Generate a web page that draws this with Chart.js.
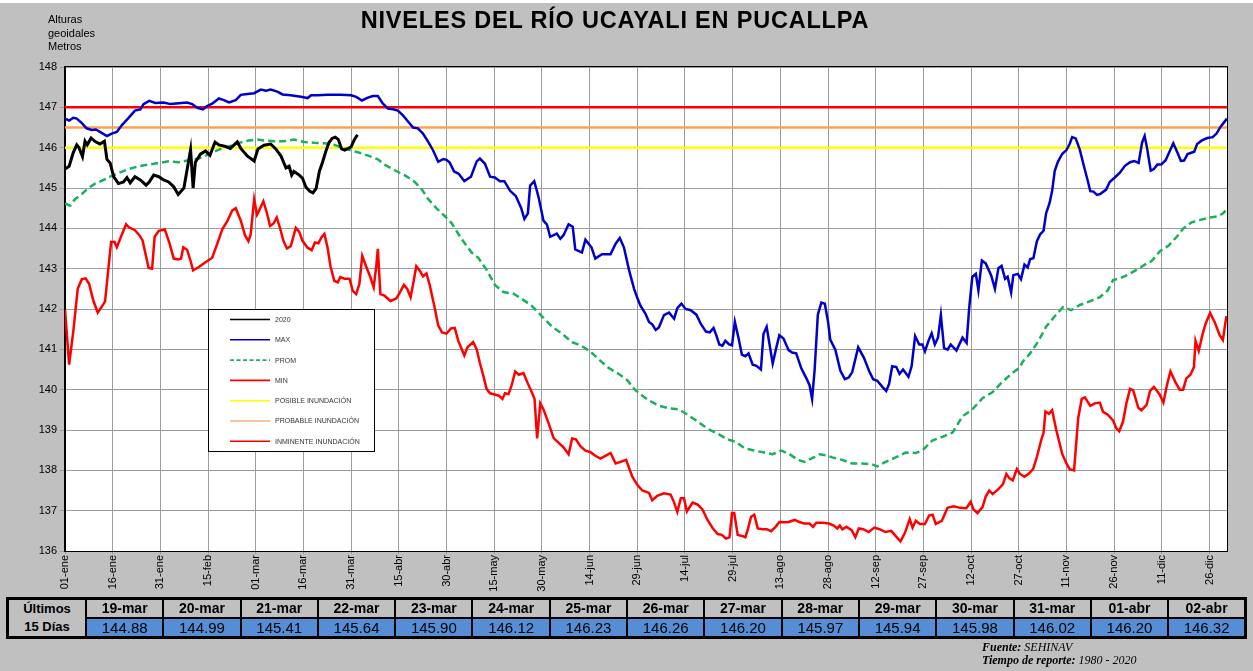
<!DOCTYPE html>
<html><head><meta charset="utf-8">
<script src="https://cdn.jsdelivr.net/npm/chart.js@4.4.1/dist/chart.umd.min.js"></script>
<style>
html,body{margin:0;padding:0;background:#c0c0c0;}
#wrap{position:relative;width:1253px;height:671px;background:#c0c0c0;overflow:hidden;font-family:"Liberation Sans",Arial,sans-serif;}
#topline{position:absolute;left:0;top:0;width:1253px;height:3px;background:#fff;}
#c{position:absolute;left:0;top:0;}
#title{position:absolute;left:0;width:1230px;top:7px;line-height:27px;text-align:center;font-weight:bold;font-size:23.5px;color:#000;letter-spacing:0.8px;}
#ycap{position:absolute;left:48px;top:13px;font-size:11px;line-height:13.5px;color:#000;}
#tbl{position:absolute;left:6px;top:597px;width:1241px;border-collapse:collapse;table-layout:fixed;border:3px solid #000;}
#tbl td{border:2px solid #000;padding:0;text-align:center;height:17px;line-height:17px;white-space:nowrap;overflow:hidden;}
#tbl td.lab{font-weight:bold;font-size:13px;line-height:18px;background:#c0c0c0;width:76px;}
#tbl td.hd{font-weight:bold;font-size:14px;background:#c0c0c0;}
#tbl td.vl{font-size:15px;background:#558ed5;}
#foot{position:absolute;left:982px;top:641px;font-family:"Liberation Serif","Times New Roman",serif;font-size:12px;line-height:13px;color:#000;}
</style></head>
<body>
<div id="wrap">
<div id="topline"></div>
<canvas id="c" width="1253" height="671"></canvas>
<div id="title">NIVELES DEL RÍO UCAYALI EN PUCALLPA</div>
<div id="ycap">Alturas<br>geoidales<br>Metros</div>
<table id="tbl"><tr id="rh"></tr><tr id="rv"></tr></table>
<div id="foot"><b><i>Fuente:</i></b> <i>SEHINAV</i><br><b><i>Tiempo de reporte:</i></b> <i>1980 - 2020</i></div>
</div>
<script>
// ---------- DATA ----------
const xTickLabels = ['01-ene','16-ene','31-ene','15-feb','01-mar','16-mar','31-mar','15-abr','30-abr','15-may','30-may','14-jun','29-jun','14-jul','29-jul','13-ago','28-ago','12-sep','27-sep','12-oct','27-oct','11-nov','26-nov','11-dic','26-dic'];
const tableDates = ['19-mar','20-mar','21-mar','22-mar','23-mar','24-mar','25-mar','26-mar','27-mar','28-mar','29-mar','30-mar','31-mar','01-abr','02-abr'];
const tableValues = [144.88,144.99,145.41,145.64,145.90,146.12,146.23,146.26,146.20,145.97,145.94,145.98,146.02,146.20,146.32];
const tableStartDay = 78; // 19-mar (day of year index, 2020)
const posible = 146, probable = 146.5, inminente = 147;

// [day of year, level]
const s2020 = [[0,145.47],[1.3,145.54],[2.6,145.88],[3.7,146.07],[4.4,146.0],[5.5,145.78],[6.3,146.16],[7,146.07],[8.2,146.24],[9.5,146.15],[11,146.09],[12.4,146.16],[13.2,145.71],[14.2,145.62],[15.3,145.28],[16.8,145.11],[18.4,145.15],[19.5,145.26],[20.5,145.13],[22,145.28],[23.7,145.2],[25.5,145.07],[26.5,145.15],[27.9,145.32],[29.5,145.28],[31,145.2],[32.6,145.15],[34.2,145.03],[35.6,144.84],[37.4,145.0],[38.4,145.45],[39.5,145.95],[40.3,145.0],[41,145.64],[42.6,145.84],[44.2,145.92],[45.6,145.81],[47.2,146.14],[48.4,146.07],[50.5,146.03],[52,145.98],[54.2,146.14],[55.3,145.98],[57.4,145.79],[59.5,145.67],[60.7,145.97],[62.6,146.06],[64.7,146.09],[66.3,145.97],[67.9,145.8],[69.5,145.5],[70.5,145.54],[71.3,145.32],[72,145.41],[73.7,145.32],[74.7,145.24],[75.8,145.02],[77,144.92]];

const sMax = [[0,146.72],[1.3,146.67],[2.6,146.74],[3.7,146.72],[5.3,146.61],[6.8,146.48],[8.4,146.44],[9.7,146.45],[11,146.39],[13.2,146.29],[14.7,146.35],[16.3,146.39],[17.9,146.56],[20,146.74],[22,146.92],[23.7,146.95],[24.7,147.08],[26.5,147.16],[28.4,147.11],[31,147.12],[33.2,147.08],[35.8,147.1],[38.4,147.12],[40,147.08],[41.6,146.99],[43.4,146.95],[44.7,147.03],[46.3,147.09],[48.4,147.22],[50,147.18],[51.6,147.12],[53.7,147.18],[55.3,147.31],[57.4,147.33],[59.5,147.35],[61.6,147.44],[63.2,147.41],[64.7,147.44],[66.8,147.39],[68.4,147.32],[71,147.3],[74.2,147.26],[76.3,147.23],[77.4,147.3],[79.5,147.3],[82.6,147.31],[86.8,147.31],[90,147.3],[91.6,147.26],[93.4,147.17],[95.3,147.24],[96.8,147.28],[98.4,147.28],[100,147.09],[101.6,146.97],[103.2,146.95],[104.7,146.92],[106.3,146.8],[107.9,146.65],[109.5,146.5],[111,146.48],[112.6,146.35],[114.2,146.15],[115.8,145.93],[117.4,145.65],[119,145.72],[120,145.7],[121,145.63],[122.4,145.41],[123.9,145.35],[125.6,145.17],[127.7,145.28],[129.5,145.66],[130.5,145.73],[132.1,145.6],[133.7,145.28],[135.2,145.26],[136.8,145.17],[138.2,145.17],[140,144.93],[141.8,144.8],[143.5,144.5],[144.5,144.23],[145.6,144.37],[146.3,145.06],[147.6,145.17],[149,144.76],[150.5,144.19],[151.6,144.09],[152.6,143.79],[154.7,143.87],[155.8,143.74],[156.8,143.83],[158.4,144.1],[159.7,144.04],[160.5,143.48],[162.6,143.4],[163.7,143.72],[165.6,143.53],[166.8,143.25],[168.9,143.36],[171.6,143.36],[173.2,143.62],[174.5,143.76],[175.8,143.53],[177.4,142.97],[179,142.5],[180,142.28],[181,142.08],[182.6,141.88],[183.7,141.68],[184.7,141.62],[185.8,141.48],[186.8,141.54],[188.4,141.85],[190,141.91],[191.6,141.76],[192.6,142.02],[193.9,142.13],[195.2,142.0],[196.8,141.97],[198.6,141.86],[200,141.63],[201.6,141.44],[202.8,141.42],[204,141.53],[204.9,141.34],[205.8,141.12],[206.8,141.09],[207.7,141.21],[208.9,141.12],[209.8,141.1],[210.7,141.68],[211.9,141.26],[212.9,140.87],[214,140.83],[215,140.9],[216.3,140.62],[217.5,140.59],[218.9,140.5],[219.7,141.38],[220.7,141.56],[222.6,140.65],[223.7,141.03],[224.7,141.35],[226,141.27],[227.6,140.98],[228.7,140.92],[230,140.9],[231.6,140.53],[233.2,140.28],[234.2,140.11],[235,139.77],[235.8,140.5],[236.8,141.86],[237.9,142.16],[239,142.13],[240,141.69],[240.7,141.24],[242.3,140.99],[243.9,140.47],[245.3,140.26],[246.5,140.3],[247.6,140.43],[249.5,141.05],[251.3,140.79],[252.9,140.47],[254.2,140.26],[255.5,140.22],[257.1,140.07],[258.3,139.97],[259.2,140.14],[260.2,140.58],[261.5,140.56],[262.5,140.39],[263.6,140.5],[265.3,140.32],[266.3,140.58],[267.4,141.33],[268.7,141.12],[269.7,141.12],[270.5,140.95],[271.6,141.21],[272.6,141.4],[273.6,141.12],[274.6,141.29],[275.5,141.85],[276.5,141.03],[277.6,140.99],[278.6,141.12],[280.4,140.97],[282.3,141.29],[283.6,141.16],[284.4,142.02],[285.4,142.8],[286.5,142.87],[287.3,142.46],[288.4,143.2],[289.6,143.13],[291.3,142.84],[292.5,142.5],[293.6,143.01],[294.6,143.07],[295.7,142.75],[296.5,142.8],[297.6,142.41],[298.3,142.84],[299.7,142.87],[300.7,142.74],[301.8,143.1],[302.8,143.03],[303.6,143.24],[304.6,143.26],[305.7,143.68],[306.7,143.85],[307.8,143.94],[308.6,144.37],[309.7,144.63],[310.5,144.93],[311.3,145.42],[312.3,145.65],[313.7,145.85],[315,145.94],[316,146.09],[316.8,146.26],[317.9,146.23],[319.2,145.95],[320.4,145.57],[321.8,145.15],[322.5,144.92],[323.5,144.91],[324.6,144.83],[325.6,144.85],[327.5,144.96],[328.6,145.15],[330.2,145.26],[331.8,145.38],[333.4,145.55],[335,145.64],[336.3,145.67],[337.7,145.62],[338.8,146.13],[339.6,146.29],[340.4,145.97],[341.5,145.43],[342.5,145.47],[343.6,145.58],[344.8,145.58],[346.2,145.69],[347.3,145.88],[348.6,146.11],[349.9,145.88],[351,145.67],[352,145.68],[353.1,145.84],[354.5,145.88],[355.2,145.9],[356.1,146.09],[357.6,146.18],[359.3,146.24],[361,146.26],[362.2,146.35],[363.5,146.52],[365,146.67],[365.5,146.72]];

const sProm = [[0,144.62],[1.6,144.56],[3.2,144.73],[5.3,144.85],[7.4,145.0],[9.5,145.11],[11.6,145.18],[14.2,145.28],[16.8,145.37],[20,145.47],[23.2,145.54],[26.3,145.58],[29.5,145.62],[32.6,145.66],[35.8,145.64],[38.9,145.69],[42.1,145.73],[45.3,145.84],[48.4,145.95],[51.6,146.03],[54.7,146.12],[57.9,146.18],[60.5,146.2],[62.6,146.18],[65.8,146.16],[68.9,146.16],[72.1,146.2],[75.3,146.14],[78.4,146.12],[81.6,146.11],[84.7,146.07],[87.9,145.98],[90.5,145.92],[93.2,145.86],[95.8,145.79],[98.4,145.71],[100.5,145.58],[103.7,145.44],[106.8,145.32],[110,145.15],[112.1,144.98],[114.2,144.73],[116.8,144.5],[119.5,144.3],[121.6,144.13],[124.7,143.74],[127.9,143.4],[130,143.27],[132.6,142.97],[135.3,142.59],[137.9,142.42],[141.1,142.38],[143.7,142.25],[146.8,142.08],[150,141.82],[153.2,141.56],[156.3,141.39],[159.5,141.18],[162.6,141.08],[165.3,140.94],[167.9,140.75],[171,140.54],[174.2,140.39],[176.8,140.24],[179.5,139.98],[181.6,139.85],[183.7,139.73],[186.8,139.6],[190,139.54],[193.2,139.51],[195.8,139.38],[199,139.21],[202.1,139.03],[205.3,138.91],[208.4,138.77],[211.1,138.7],[213.7,138.55],[216.8,138.49],[220,138.44],[222.6,138.4],[225.3,138.49],[227.9,138.4],[230.5,138.26],[232.6,138.21],[234.7,138.29],[237.4,138.4],[240,138.36],[241.3,138.32],[244.4,138.26],[247.6,138.17],[250.7,138.17],[253.9,138.15],[255.5,138.1],[258.1,138.21],[261.3,138.32],[264.4,138.44],[267.6,138.43],[269.7,138.49],[272.8,138.74],[276,138.83],[279.2,138.94],[282.3,139.34],[285.4,139.51],[288.6,139.79],[291.8,139.94],[294.9,140.2],[298.1,140.42],[300.2,140.54],[301.3,140.7],[303.4,140.88],[306,141.18],[308.6,141.56],[311.3,141.82],[314,142.05],[316.5,141.97],[319.2,142.1],[322.3,142.19],[325.4,142.29],[328,142.46],[329.7,142.72],[331.8,142.76],[334.4,142.85],[337,142.97],[339.7,143.1],[341.8,143.19],[344.5,143.44],[347.1,143.57],[349.7,143.79],[351.8,144.0],[354.4,144.15],[357.1,144.21],[360.2,144.27],[362.8,144.3],[364.4,144.38],[365.5,144.5]];

const sMin = [[0,141.99],[1.3,140.62],[2.6,141.44],[4,142.5],[5.3,142.74],[6.5,142.76],[7.6,142.62],[8.9,142.21],[10.3,141.91],[11.6,142.06],[12.6,142.19],[13.5,142.89],[14.5,143.66],[15.6,143.66],[16.3,143.53],[17.7,143.81],[19.2,144.1],[20.2,144.02],[21.9,143.96],[23.4,143.83],[24.4,143.7],[25.5,143.3],[26.3,143.02],[27.4,143.0],[28.2,143.79],[29.5,143.94],[31.4,143.97],[32.9,143.62],[34.2,143.25],[35.6,143.23],[36.5,143.25],[37.2,143.53],[38.4,143.47],[39.5,143.19],[40.3,142.96],[42.1,143.04],[44.2,143.16],[46.3,143.27],[47.9,143.62],[49.5,143.98],[51,144.17],[52.6,144.44],[53.7,144.5],[55.3,144.19],[56.6,143.83],[57.7,143.68],[58.4,143.85],[59.5,144.72],[60.4,144.34],[61,144.43],[62.4,144.67],[63.5,144.38],[64.5,144.06],[65.6,144.12],[66.6,144.27],[67.7,143.99],[68.7,143.69],[69.8,143.5],[71,143.56],[72.6,144.01],[73.7,143.91],[74.7,143.69],[76.3,143.52],[77.6,143.46],[78.6,143.65],[79.7,143.63],[80.7,143.78],[81.6,143.86],[82.6,143.52],[83.5,143.06],[84.7,142.7],[85.8,142.66],[86.6,142.79],[87.9,142.75],[89.5,142.75],[90.5,142.45],[91.6,142.37],[92.6,142.62],[93.5,143.32],[94.7,143.06],[96,142.8],[97.1,142.54],[97.9,143.06],[98.4,143.49],[99.2,142.37],[100.5,142.33],[102.4,142.2],[104.2,142.26],[105.6,142.45],[106.6,142.6],[107.7,142.49],[108.7,142.29],[109.5,142.62],[110.5,143.06],[111.6,142.95],[112.6,142.81],[113.7,142.88],[114.7,142.6],[116.1,142.1],[117.4,141.59],[118.6,141.42],[120,141.39],[121.4,141.52],[122.6,141.53],[123.7,141.21],[124.7,141.02],[125.6,140.85],[126.6,141.05],[128.4,141.18],[129.5,141.0],[130.5,140.66],[131.6,140.34],[132.6,140.02],[133.7,139.91],[135.2,139.88],[136.5,139.85],[137.6,139.77],[138.4,139.91],[139.5,139.89],[140.5,140.11],[141.6,140.45],[142.8,140.37],[144.2,140.41],[145.6,140.15],[146.8,139.94],[147.7,139.77],[148.5,138.79],[149.5,139.66],[150.5,139.51],[152.1,139.17],[153.7,138.8],[155.3,138.68],[156.8,138.57],[158.4,138.4],[159.5,138.79],[160.7,138.77],[162.1,138.6],[163.7,138.49],[165.3,138.45],[166.8,138.36],[168.4,138.29],[170,138.36],[171.6,138.43],[173.2,138.17],[174.7,138.21],[176.5,138.26],[178.4,137.85],[180,137.64],[181.6,137.5],[183.7,137.44],[184.7,137.26],[186.3,137.37],[188.4,137.43],[190.5,137.4],[191.6,137.2],[192.6,136.97],[193.7,137.31],[194.7,137.31],[195.6,136.98],[197.4,137.2],[199,137.15],[200.5,137.03],[202.1,136.77],[203.7,136.57],[205.3,136.42],[206.6,136.4],[207.9,136.31],[209,136.34],[209.8,136.94],[210.5,136.94],[211.6,136.4],[213.2,136.37],[214,136.34],[214.7,136.51],[215.8,136.85],[216.8,136.9],[217.9,136.56],[219.5,136.54],[220.7,136.54],[222.1,136.49],[223.5,136.6],[224.7,136.72],[226.3,136.71],[227.6,136.72],[229.5,136.77],[231,136.72],[232.6,136.68],[234.2,136.68],[235.3,136.6],[236.3,136.7],[238.4,136.7],[240.2,136.68],[241.8,136.63],[242.9,136.56],[243.7,136.63],[244.5,136.54],[245.8,136.6],[247.5,136.51],[248.6,136.34],[249.7,136.56],[251.1,136.54],[252.8,136.47],[254.6,136.58],[256.2,136.54],[258.1,136.47],[259.9,136.5],[261.3,136.37],[262.8,136.24],[264.2,136.45],[265.7,136.79],[266.6,136.58],[267.6,136.75],[268.9,136.67],[270.5,136.67],[271.8,136.88],[272.9,136.9],[273.9,136.67],[275.8,136.75],[277.6,137.07],[279.5,137.11],[281.6,137.07],[283.5,137.06],[284.9,137.22],[285.7,137.04],[287,136.94],[288.6,137.09],[289.6,137.35],[290.7,137.5],[291.8,137.41],[293.4,137.52],[295,137.65],[296.1,137.91],[297.1,137.8],[298.1,137.75],[299.4,138.03],[300.4,137.91],[301.8,137.84],[303.2,137.92],[304.5,138.03],[305.7,138.33],[307.1,138.76],[307.8,138.93],[308.4,139.46],[309.5,139.4],[310.5,139.49],[311.8,139.0],[313.7,138.4],[315,138.17],[316,138.03],[317.4,138.0],[318.7,139.3],[319.8,139.77],[320.8,139.81],[322.5,139.6],[323.9,139.66],[325.5,139.68],[326.5,139.45],[328,139.38],[329.7,139.23],[330.7,139.04],[331.6,138.97],[332.8,139.21],[333.9,139.68],[335,140.02],[336,139.98],[337.6,139.55],[338.6,139.49],[340.2,139.62],[341.3,139.97],[342.5,140.07],[344.3,139.88],[345.5,139.68],[346.6,140.11],[347.7,140.45],[349.2,140.2],[350.6,140.0],[351.7,140.0],[352.7,140.28],[354,140.37],[355.1,140.56],[355.6,141.21],[356.6,140.96],[357.7,141.34],[358.8,141.64],[360.2,141.9],[361.6,141.68],[363.2,141.35],[364.2,141.23],[365.3,141.82]];

// ---------- TABLE ----------
const rh = document.getElementById('rh'), rv = document.getElementById('rv');
const lab = document.createElement('td'); lab.className='lab'; lab.rowSpan=2; lab.innerHTML='Últimos<br>15 Días'; rh.appendChild(lab);
tableDates.forEach(d=>{const td=document.createElement('td');td.className='hd';td.textContent=d;rh.appendChild(td);});
tableValues.forEach(v=>{const td=document.createElement('td');td.className='vl';td.textContent=v.toFixed(2);rv.appendChild(td);});

// ---------- CHART ----------
const pts = a => a.map(([x,y])=>({x,y}));
const XMAX = 365.5;
const flat = v => [{x:0,y:v},{x:XMAX,y:v}];
const data2020 = pts(s2020.concat(tableValues.map((v,i)=>[tableStartDay+i,v])));

const plotBg = {id:'plotBg', beforeDraw(chart){
  const a=chart.chartArea, ctx=chart.ctx; ctx.save();
  ctx.fillStyle='#ffffff'; ctx.fillRect(a.left,a.top,a.right-a.left,a.bottom-a.top);
  ctx.restore();
}};
const frame = {id:'frame', afterDatasetsDraw(chart){
  const a=chart.chartArea, ctx=chart.ctx; ctx.save();
  ctx.strokeStyle='#000'; ctx.lineWidth=1;
  ctx.strokeRect(a.left-0.5,a.top-0.5,a.right-a.left+1,a.bottom-a.top+1);
  ctx.restore();
}};
const boxLegend = {id:'boxLegend', afterDraw(chart){
  const ctx=chart.ctx; ctx.save();
  const L=208.5,T=309.5,W=166,H=142;
  ctx.fillStyle='#fff'; ctx.fillRect(L,T,W,H);
  ctx.strokeStyle='#000'; ctx.lineWidth=1; ctx.strokeRect(L,T,W,H);
  ctx.font='7px "Liberation Sans", Arial, sans-serif'; ctx.textBaseline='middle';
  chart.data.datasets.forEach((ds,i)=>{
    const y=319.5+i*20.3;
    ctx.strokeStyle=ds.legendColor||ds.borderColor; ctx.lineWidth=1.6; ctx.setLineDash(ds.borderDash?[4,2.5]:[]);
    ctx.beginPath(); ctx.moveTo(230,y); ctx.lineTo(270,y); ctx.stroke();
    ctx.setLineDash([]); ctx.fillStyle='#333'; ctx.fillText(ds.label,275,y+0.5);
  });
  ctx.restore();
}};

const common = {pointRadius:0, pointHoverRadius:0, fill:false, tension:0};
new Chart(document.getElementById('c'),{
  type:'line',
  data:{datasets:[
    {...common,label:'2020',data:data2020,borderColor:'#000000',borderWidth:3},
    {...common,label:'MAX',data:pts(sMax),borderColor:'#0000c8',borderWidth:2.5},
    {...common,label:'PROM',data:pts(sProm),borderColor:'#1bb05a',borderWidth:2.5,borderDash:[7,4]},
    {...common,label:'MIN',data:pts(sMin),borderColor:'#ff0000',borderWidth:2.5},
    {...common,label:'POSIBLE INUNDACIÓN',data:flat(posible),borderColor:'#ffff00',borderWidth:2.5},
    {...common,label:'PROBABLE INUNDACIÓN',data:flat(probable),borderColor:'#ff9f50',legendColor:'#f7b27e',borderWidth:2.5},
    {...common,label:'INMINENTE INUNDACIÓN',data:flat(inminente),borderColor:'#ff0000',borderWidth:2.5}
  ]},
  options:{
    responsive:false, animation:false, devicePixelRatio:1,
    layout:{padding:{left:0,top:67,right:26,bottom:0}},
    plugins:{legend:{display:false},tooltip:{enabled:false},title:{display:false}},
    scales:{
      x:{type:'linear',min:0,max:XMAX,
        afterFit(s){s.height=120;},
        afterBuildTicks(s){s.ticks=xTickLabels.map((_,i)=>({value:i*15}));},
        grid:{color:'#9c9c9c',lineWidth:1,tickLength:3},
        border:{color:'#000'},
        ticks:{autoSkip:false,minRotation:90,maxRotation:90,padding:1,color:'#000',
          font:{family:'"Liberation Sans", Arial, sans-serif',size:11},
          callback:(v,i)=>xTickLabels[i]}
      },
      y:{type:'linear',min:136,max:148,
        afterFit(s){s.width=65;},
        grid:{color:'#9c9c9c',lineWidth:1,tickLength:5},
        border:{color:'#000'},
        ticks:{stepSize:1,padding:3,color:'#000',
          font:{family:'"Liberation Sans", Arial, sans-serif',size:11}}
      }
    }
  },
  plugins:[plotBg,frame,boxLegend]
});
</script>
</body></html>
